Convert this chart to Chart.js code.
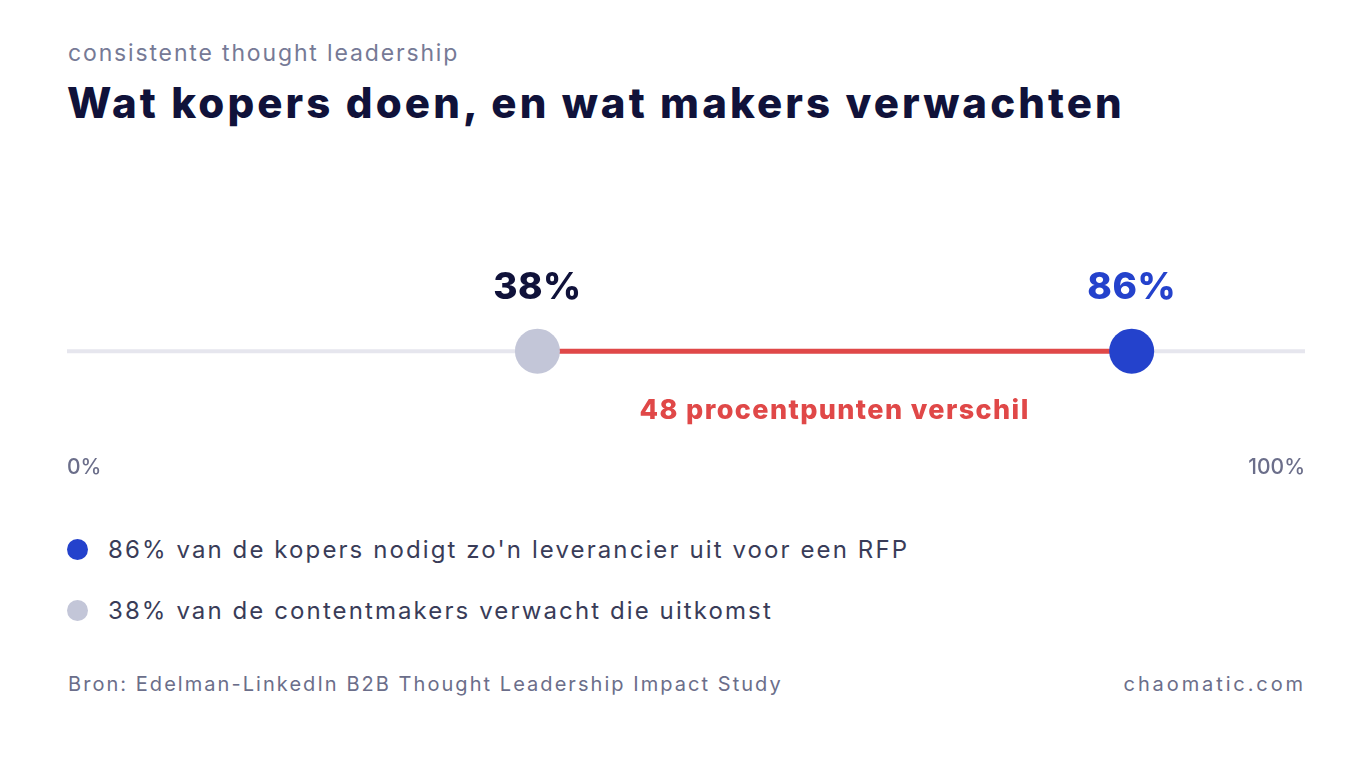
<!DOCTYPE html>
<html lang="nl">
<head>
<meta charset="utf-8">
<title>Wat kopers doen, en wat makers verwachten</title>
<script src="https://cdn.jsdelivr.net/npm/chart.js@4.4.1/dist/chart.umd.min.js"></script>
<style>
  html, body { margin: 0; padding: 0; background: #ffffff; }
  body { width: 1352px; height: 758px; position: relative; overflow: hidden; font-family: Inter, "Noto Sans", sans-serif; }
  .kicker { position: absolute; left: 68px; top: 39px; font-size: 23px; color: #767a96; letter-spacing: 1.85px; }
  .title { position: absolute; left: 67px; top: 77px; font-size: 42px; font-weight: 800; color: #10123a; letter-spacing: 3.1px; }
  #wrap { position: absolute; left: 0; top: 251px; width: 1352px; height: 255px; }
  .legend { position: absolute; left: 67px; top: 532px; }
  .legend div { display: flex; align-items: center; height: 34px; margin-bottom: 27px; font-size: 24px; color: #393c58; letter-spacing: 2.1px; }
  .legend span.dot { width: 21px; height: 21px; border-radius: 50%; margin-right: 20px; display: inline-block; }
  .footer { position: absolute; top: 672px; font-size: 20px; color: #6b6e8a; letter-spacing: 2.05px; }
</style>
</head>
<body>
<div class="kicker">consistente thought leadership</div>
<div class="title">Wat kopers doen, en wat makers verwachten</div>
<div id="wrap"><canvas id="gap-chart"></canvas></div>
<div class="legend" id="legend"></div>
<div class="footer" style="left:68px">Bron: Edelman-LinkedIn B2B Thought Leadership Impact Study</div>
<div class="footer" style="right:46px; letter-spacing:2.9px">chaomatic.com</div>

<script>
// Data
const groups = ["contentmakers", "kopers"];
const values = [38, 86];
const legendLabels = [
  "86% van de kopers nodigt zo'n leverancier uit voor een RFP",
  "38% van de contentmakers verwacht die uitkomst"
];
const scaleRange = [0, 100];
const gapLabel = "48 procentpunten verschil";

// Colors
const makerColor = "#c3c6d8";
const buyerColor = "#2442cc";
const gapColor = "#e04848";
const trackColor = "#e6e6ee";
const inkColor = "#10123a";

// Labels above the dots and the gap text below the red line
const gapLabels = {
  id: "gapLabels",
  afterDatasetsDraw(chart) {
    const ctx = chart.ctx;
    const x = chart.scales.x;
    const y = chart.scales.y;
    const py = y.getPixelForValue(0);
    ctx.save();
    ctx.textAlign = "center";
    ctx.textBaseline = "middle";
    ctx.font = "800 37px Inter, sans-serif";
    ctx.letterSpacing = "0.5px";
    ctx.fillStyle = inkColor;
    ctx.fillText(values[0] + "%", x.getPixelForValue(values[0]), py - 63);
    ctx.fillStyle = buyerColor;
    ctx.fillText(values[1] + "%", x.getPixelForValue(values[1]), py - 63);
    ctx.font = "800 27px Inter, sans-serif";
    ctx.letterSpacing = "1.4px";
    ctx.fillStyle = gapColor;
    const mid = (x.getPixelForValue(values[0]) + x.getPixelForValue(values[1])) / 2;
    ctx.fillText(gapLabel, mid, py + 60);
    ctx.restore();
  }
};

const ctx = document.getElementById("gap-chart").getContext("2d");
new Chart(ctx, {
  type: "scatter",
  data: {
    datasets: [
      {
        label: groups[1],
        data: [{ x: values[1], y: 0 }],
        backgroundColor: buyerColor,
        borderWidth: 0,
        pointRadius: 22.5,
        pointHoverRadius: 22.5,
        order: 0
      },
      {
        label: groups[0],
        data: [{ x: values[0], y: 0 }],
        backgroundColor: makerColor,
        borderWidth: 0,
        pointRadius: 22.5,
        pointHoverRadius: 22.5,
        order: 0
      },
      {
        label: "verschil",
        data: [{ x: values[0], y: 0 }, { x: values[1], y: 0 }],
        showLine: true,
        borderColor: gapColor,
        borderWidth: 5,
        pointRadius: 0,
        order: 1
      },
      {
        label: "schaal",
        data: [{ x: scaleRange[0], y: 0 }, { x: scaleRange[1], y: 0 }],
        showLine: true,
        borderColor: trackColor,
        borderWidth: 4,
        pointRadius: 0,
        order: 2
      }
    ]
  },
  options: {
    responsive: true,
    maintainAspectRatio: false,
    animation: false,
    events: [],
    layout: { padding: { left: 67, right: 47, top: 0, bottom: 0 } },
    plugins: {
      legend: { display: false },
      tooltip: { enabled: false }
    },
    scales: {
      x: {
        type: "linear",
        min: scaleRange[0],
        max: scaleRange[1],
        grid: { display: false, drawTicks: false },
        border: { display: false },
        ticks: {
          stepSize: 100,
          align: "inner",
          padding: 26,
          color: "#6b6e8a",
          font: { family: "Inter, sans-serif", size: 21, weight: 500 },
          callback: v => v + "%"
        }
      },
      y: {
        display: false,
        min: -1,
        max: 1
      }
    }
  },
  plugins: [gapLabels]
});

// Legend built from the same data
const legendEl = document.getElementById("legend");
[buyerColor, makerColor].forEach((c, i) => {
  const row = document.createElement("div");
  row.innerHTML = '<span class="dot" style="background:' + c + '"></span>' + legendLabels[i];
  legendEl.appendChild(row);
});
</script>
</body>
</html>
